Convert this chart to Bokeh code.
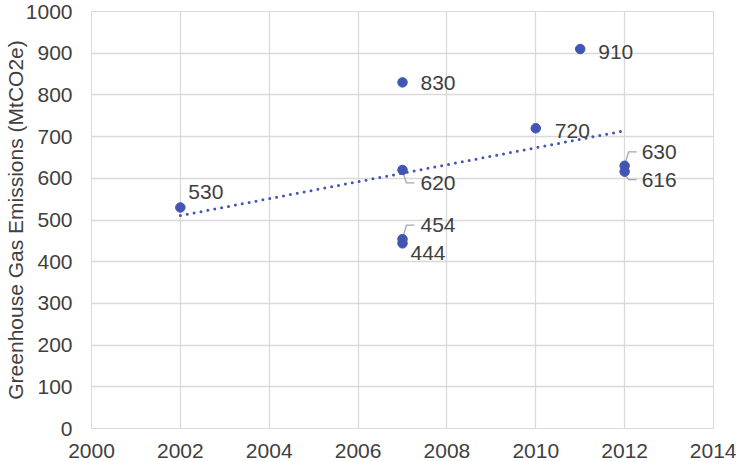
import numpy as np
from bokeh.plotting import figure
from bokeh.models import FixedTicker, ColumnDataSource
from bokeh.embed import file_html
from bokeh.resources import INLINE
from bokeh.core.properties import value

# ---- data ----
years = [2002, 2007, 2007, 2007, 2007, 2010, 2011, 2012, 2012]
emissions = [530, 830, 620, 454, 444, 720, 910, 630, 616]
point_labels = ["530", "830", "620", "454", "444", "720", "910", "630", "616"]
x_ticks = [2000, 2002, 2004, 2006, 2008, 2010, 2012, 2014]
y_ticks = [0, 100, 200, 300, 400, 500, 600, 700, 800, 900, 1000]
y_title = "Greenhouse Gas Emissions (MtCO2e)"

# ---- label placement (screen pixels, y down) ----
label_dx = [8, 18, 18, 18, 8, 19, 18, 17, 17]
label_dy = [-15, 1, 13, -14, 10, 3, 3, -14, 8]
has_leader = [False, False, True, True, False, False, False, True, True]

FONT = "Liberation Sans"
FS = "21px"
TXT = "#404040"
GRID = "#D9D9D9"
BLUE = "#4355B3"

FW, FH = 622, 417
p = figure(frame_width=FW, frame_height=FH,
           x_range=(2000, 2014), y_range=(0, 1000),
           output_backend="svg", toolbar_location=None,
           min_border_left=91, min_border_right=23,
           min_border_top=11, min_border_bottom=33)
p.outline_line_color = GRID
p.background_fill_color = "white"

for ax in (p.xaxis[0], p.yaxis[0]):
    ax.axis_line_color = GRID
    ax.major_tick_line_color = None
    ax.minor_tick_line_color = None
    ax.major_tick_out = 0
    ax.major_tick_in = 0
    ax.major_label_text_font = FONT
    ax.major_label_text_font_size = FS
    ax.major_label_text_color = TXT

p.xaxis.ticker = FixedTicker(ticks=x_ticks)
p.yaxis.ticker = FixedTicker(ticks=y_ticks)
p.xaxis.major_label_standoff = 15
p.yaxis.major_label_standoff = 19

p.yaxis.axis_label = y_title
p.yaxis.axis_label_text_font = FONT
p.yaxis.axis_label_text_font_size = FS
p.yaxis.axis_label_text_font_style = "normal"
p.yaxis.axis_label_text_color = TXT
p.yaxis.axis_label_standoff = -4

p.xgrid.ticker = FixedTicker(ticks=x_ticks)
p.ygrid.ticker = FixedTicker(ticks=y_ticks)
p.xgrid.grid_line_color = GRID
p.ygrid.grid_line_color = GRID
p.xgrid.grid_line_width = 1.3
p.ygrid.grid_line_width = 1.3

# trend line (linear fit of the data)
coef = np.polyfit(years, emissions, 1)
tx = [min(years), max(years)]
ty = list(np.polyval(coef, tx))
p.line(tx, ty, line_color=BLUE, line_width=3, line_dash="0 7", line_cap="round")

# leader lines
sxp = 14 / FW
syp = 1000 / FH
lxs, lys = [], []
for x, y, dy, lead in zip(years, emissions, label_dy, has_leader):
    if not lead:
        continue
    sgn = 1 if dy > 0 else -1
    lxs.append([x + 1 * sxp, x + 4 * sxp, x + 12 * sxp])
    lys.append([y - sgn * 4 * syp, y - dy * syp, y - dy * syp])
p.multi_line(lxs, lys, line_color="#A6A6A6", line_width=1.3)

src = ColumnDataSource(dict(x=years, y=emissions, t=point_labels,
                            dx=label_dx, dy=label_dy))
p.scatter("x", "y", source=src, size=9.5, fill_color=BLUE, line_color=BLUE)
p.text("x", "y", text="t", source=src, x_offset="dx", y_offset="dy",
       text_font=value(FONT), text_font_size=FS, text_color=TXT,
       text_align="left", text_baseline="middle")

open("out.html", "w").write(file_html(p, INLINE))
